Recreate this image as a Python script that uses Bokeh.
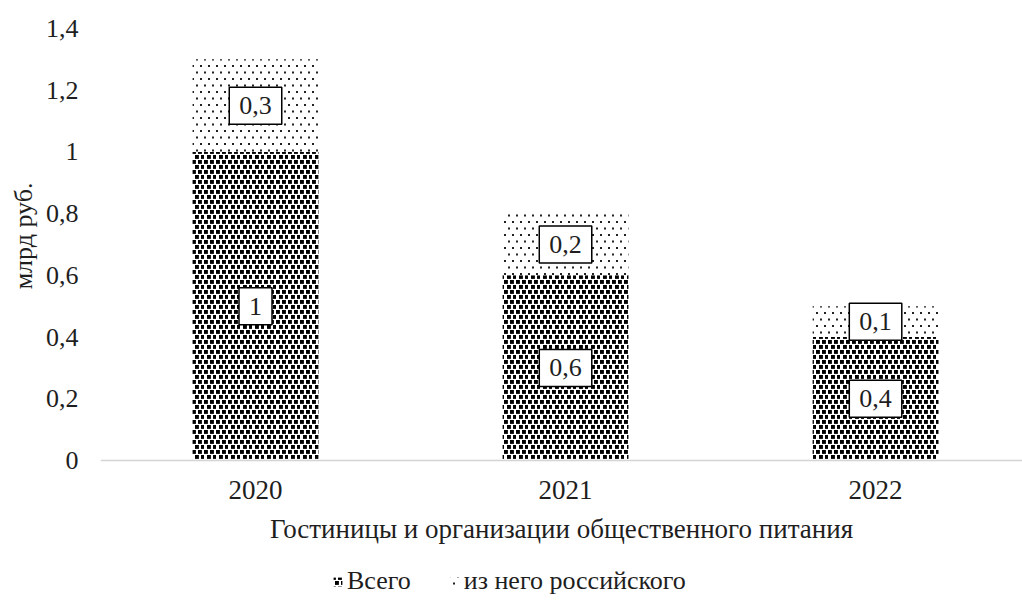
import base64
from bokeh.plotting import figure
from bokeh.models import (ColumnDataSource, Range1d, FixedTicker, CustomJSTickFormatter,
                          Legend, LegendItem, ImageURLTexture, Title)
from bokeh.core.properties import value
from bokeh.transform import stack
from bokeh.embed import file_html
from bokeh.resources import INLINE

# Data (млрд руб.)
years = ["2020", "2021", "2022"]
total = [1.0, 0.6, 0.4]          # Всего
russian = [0.3, 0.2, 0.1]        # из него российского
y_ticks = [0, 0.2, 0.4, 0.6, 0.8, 1.0, 1.2, 1.4]
series_names = ["Всего", "из него российского"]
x_title = "Гостиницы и организации общественного питания"
y_title = "млрд руб."

FONT = "Liberation Serif"
INK = "#1e1e1e"


def fmt(v):
    v = round(v, 1)
    s = str(int(v)) if v == int(v) else str(v)
    return s.replace(".", ",")


def svg_tile(w, h, dots, size, color="black"):
    """Small repeating stipple tile, returned as a data URL."""
    rects = "".join(
        f'<rect x="{x}" y="{y}" width="{size}" height="{size}" fill="{color}"/>'
        for x, y in dots)
    svg = (f'<svg xmlns="http://www.w3.org/2000/svg" width="{w}" height="{h}">'
           f'{rects}</svg>')
    return "data:image/svg+xml;base64," + base64.b64encode(svg.encode()).decode()


# dense stipple for the totals, light stipple for the Russian share
dense_tex = ImageURLTexture(url=svg_tile(12, 10, [(0, 0), (6, 0), (3, 5), (9, 5)], 3.9))
sparse_tex = ImageURLTexture(url=svg_tile(8, 13, [(0, 0), (4, 6.5)], 2, "#222222"))

xs = list(range(len(years)))
src = ColumnDataSource(dict(
    x=xs,
    total=total,
    russian=russian,
    y_total=[t / 2 for t in total],
    y_russian=[t + r / 2 for t, r in zip(total, russian)],
    lab_total=[fmt(v) for v in total],
    lab_russian=[fmt(v) for v in russian],
))

# frame runs to the bottom of the canvas; the category axis sits at y = 0
p = figure(width=1022, height=613, output_backend="svg", toolbar_location=None,
           x_range=Range1d(-0.5, 2.474), y_range=Range1d(-0.4699, 1.4259),
           min_border_left=100, min_border_right=0, min_border_top=20, min_border_bottom=8)
p.outline_line_color = None
p.grid.grid_line_color = None
p.background_fill_color = "white"
p.border_fill_color = "white"

r_total = p.vbar(x="x", bottom=0, top="total", width=0.406, source=src,
                 fill_color="white", line_color=None,
                 hatch_pattern=value("dense"), hatch_extra={"dense": dense_tex},
                 hatch_color="black")
r_rus = p.vbar(x="x", bottom="total", top=stack("total", "russian"), width=0.406, source=src,
               fill_color="white", line_color=None,
               hatch_pattern=value("sparse"), hatch_extra={"sparse": sparse_tex},
               hatch_color="black")

for ycol, tcol in (("y_total", "lab_total"), ("y_russian", "lab_russian")):
    p.text(x="x", y=ycol, text=tcol, source=src,
           text_font=value(FONT), text_font_size="26px", text_color=INK,
           text_align="center", text_baseline="middle",
           background_fill_color="white", border_line_color="black",
           border_line_width=1.5, padding=(10, 10))

# category axis
xa = p.xaxis[0]
xa.fixed_location = 0
xa.ticker = FixedTicker(ticks=xs)
xa.major_label_overrides = {i: y for i, y in zip(xs, years)}
xa.axis_line_color = "#d4d4d4"
xa.axis_line_width = 1.5
xa.major_tick_line_color = None
xa.minor_tick_line_color = None
xa.major_label_text_font = FONT
xa.major_label_text_font_size = "27px"
xa.major_label_text_color = INK
xa.major_label_standoff = 15
xa.axis_label = x_title
xa.axis_label_text_font = FONT
xa.axis_label_text_font_size = "27px"
xa.axis_label_text_font_style = "normal"
xa.axis_label_text_color = INK
xa.axis_label_standoff = 11

# value axis
ya = p.yaxis[0]
ya.ticker = FixedTicker(ticks=y_ticks)
ya.formatter = CustomJSTickFormatter(code="""
const v = Math.round(tick * 10) / 10;
return v.toString().replace('.', ',');
""")
ya.axis_line_color = None
ya.major_tick_line_color = None
ya.minor_tick_line_color = None
ya.major_label_text_font = FONT
ya.major_label_text_font_size = "26px"
ya.major_label_text_color = INK
ya.major_label_standoff = 16

ytitle = Title(text=y_title, align="right", offset=162, text_font=FONT,
               text_font_size="26px", text_font_style="normal", text_color=INK)
p.add_layout(ytitle, "left")

legend = Legend(items=[LegendItem(label=series_names[0], renderers=[r_total], index=0),
                       LegendItem(label=series_names[1], renderers=[r_rus], index=0)],
                location=(232, 9), orientation="horizontal",
                glyph_width=11, glyph_height=11, label_standoff=4, spacing=38,
                padding=0, margin=0, border_line_color=None, background_fill_alpha=0,
                label_text_font=FONT, label_text_font_size="26px", label_text_color=INK)
p.add_layout(legend, "center")

open("out.html", "w").write(file_html(p, INLINE))
